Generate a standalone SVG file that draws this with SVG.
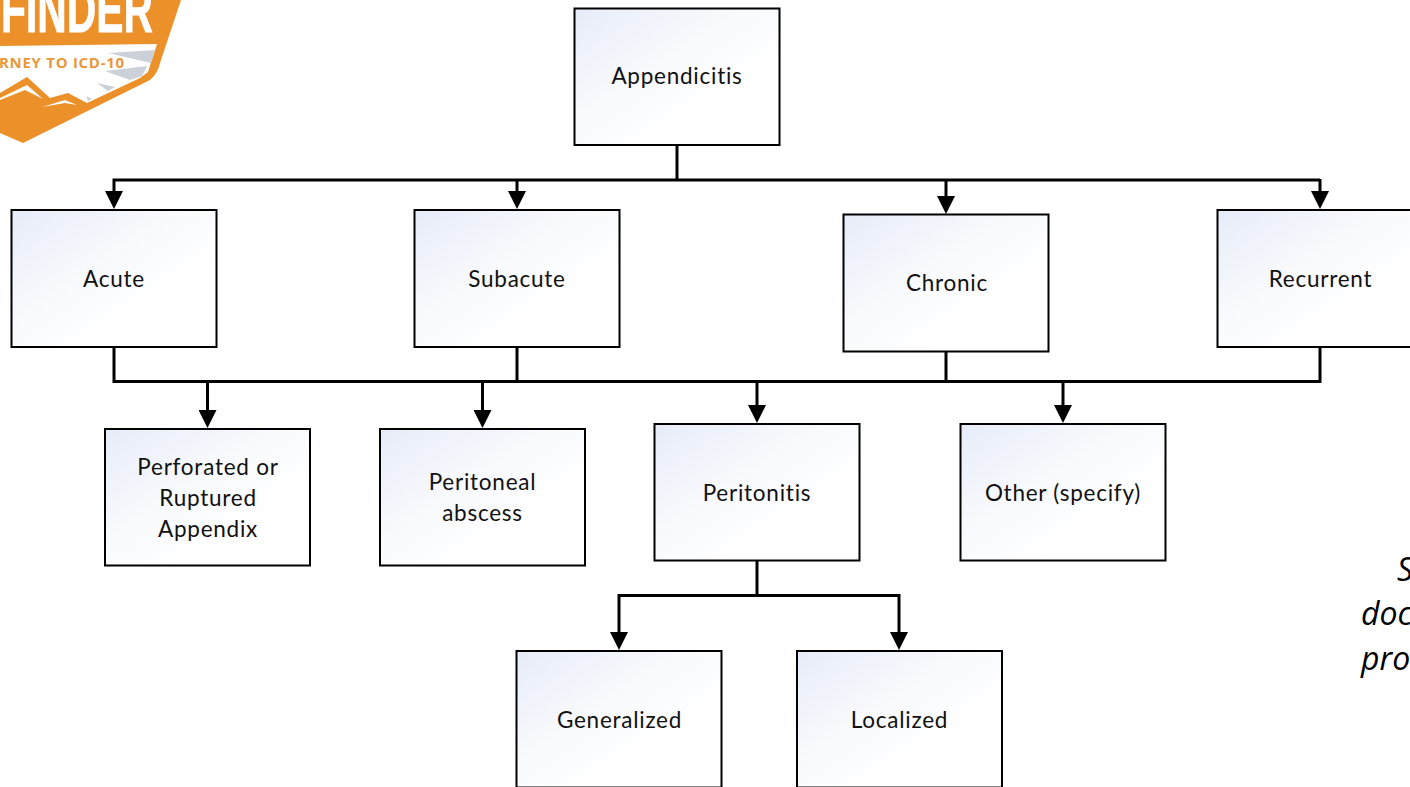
<svg xmlns="http://www.w3.org/2000/svg" width="1410" height="787" viewBox="0 0 1410 787">
<style>
.box{fill:url(#g);stroke:#000;stroke-width:2}
.t{font-family:Lato,"Liberation Sans",sans-serif;font-size:22.5px;letter-spacing:.75px;font-variant-ligatures:none;fill:#111;text-anchor:middle}
.c{fill:none;stroke:#000;stroke-width:3}
.side{font-family:"Open Sans","Liberation Sans",sans-serif;font-style:italic;font-size:32px;fill:#000}
</style>
<defs>
<linearGradient id="g" x1="0" y1="0" x2="1" y2="1"><stop offset="0" stop-color="#e6ecf8"/><stop offset=".42" stop-color="#f9fafd"/><stop offset=".7" stop-color="#fff"/></linearGradient>
<marker id="a" markerUnits="userSpaceOnUse" markerWidth="18" markerHeight="18" refX="2" refY="9" orient="auto"><path d="M0 0L18 9L0 18Z" fill="#000"/></marker>
</defs>
<rect width="1410" height="787" fill="#fff"/>
<g id="logo">
<path d="M0 0H181L160 63Q158 71 154 76Q151 80 146 82L23 143L0 133Z" fill="#ec9029"/>
<path d="M0 46L157 44L148 72L140 78L87 103L68 93L50 98L27 77L0 93Z" fill="#fff"/>
<path d="M108 53L155 50L151 63ZM105 71L147 66L142 76L130 80ZM97 83L115 87L108 91ZM86 96L92 99L88 101Z" fill="#ccd0d8"/>
<path d="M0 100L25 90L43 99L27 85L0 98ZM42 107L65 100L77 105L65 103Z" fill="#fff"/>
<text x="1" y="32" textLength="152" lengthAdjust="spacingAndGlyphs" font-family="Liberation Sans Narrow,Liberation Sans,sans-serif" font-weight="700" font-size="64" stroke="#fff" stroke-width=".8" fill="#fff">FINDER</text>
<text x="-1" y="67.5" textLength="125" font-family="Open Sans,Liberation Sans,sans-serif" font-weight="700" font-size="15" fill="#e8983a">RNEY TO ICD-10</text>
</g>
<g id="connectors">
<path class="c" d="M677 145V180"/>
<path class="c" d="M1320 180H114V193" marker-end="url(#a)"/>
<path class="c" d="M517 180V193" marker-end="url(#a)"/>
<path class="c" d="M946 180V198" marker-end="url(#a)"/>
<path class="c" d="M1320 179V193" marker-end="url(#a)"/>
<path class="c" d="M114 347V381.5H1320V347"/>
<path class="c" d="M517 347V381.5M946 351V381.5"/>
<path class="c" d="M207.5 381V412" marker-end="url(#a)"/>
<path class="c" d="M482.5 381V412" marker-end="url(#a)"/>
<path class="c" d="M757 381V407" marker-end="url(#a)"/>
<path class="c" d="M1063 381V407" marker-end="url(#a)"/>
<path class="c" d="M757 560V595.5"/>
<path class="c" d="M899 595.5H619V634" marker-end="url(#a)"/>
<path class="c" d="M899 594V634" marker-end="url(#a)"/>
</g>
<g id="appendicitis"><rect class="box" x="574.5" y="8.5" width="205" height="136.5"/><text class="t" x="677" y="84">Appendicitis</text></g>
<g id="acute"><rect class="box" x="11.5" y="210" width="205" height="137"/><text class="t" x="114" y="287">Acute</text></g>
<g id="subacute"><rect class="box" x="414.5" y="210" width="205" height="137"/><text class="t" x="517" y="287">Subacute</text></g>
<g id="chronic"><rect class="box" x="843.5" y="214.5" width="205" height="137"/><text class="t" x="947" y="291">Chronic</text></g>
<g id="recurrent"><rect class="box" x="1217.5" y="210" width="205" height="137"/><text class="t" x="1320.5" y="287">Recurrent</text></g>
<g id="perforated"><rect class="box" x="105" y="429" width="205" height="136.5"/><text class="t" x="208" y="475">Perforated or</text><text class="t" x="208" y="506">Ruptured</text><text class="t" x="208" y="537">Appendix</text></g>
<g id="peritoneal"><rect class="box" x="380" y="429" width="205" height="136.5"/><text class="t" x="482.5" y="490">Peritoneal</text><text class="t" x="482.5" y="521">abscess</text></g>
<g id="peritonitis"><rect class="box" x="654.5" y="424" width="205" height="136.5"/><text class="t" x="757" y="501">Peritonitis</text></g>
<g id="other"><rect class="box" x="960.5" y="424" width="205" height="136.5"/><text class="t" x="1063" y="501">Other (specify)</text></g>
<g id="generalized"><rect class="box" x="516.5" y="651" width="205" height="136.5"/><text class="t" x="619.5" y="728">Generalized</text></g>
<g id="localized"><rect class="box" x="797" y="651" width="205" height="136.5"/><text class="t" x="899.5" y="728">Localized</text></g>
<g id="side-note"><text class="side" x="1397" y="581">S</text><text class="side" x="1361" y="625">doc</text><text class="side" x="1361" y="670">pro</text></g>
</svg>
